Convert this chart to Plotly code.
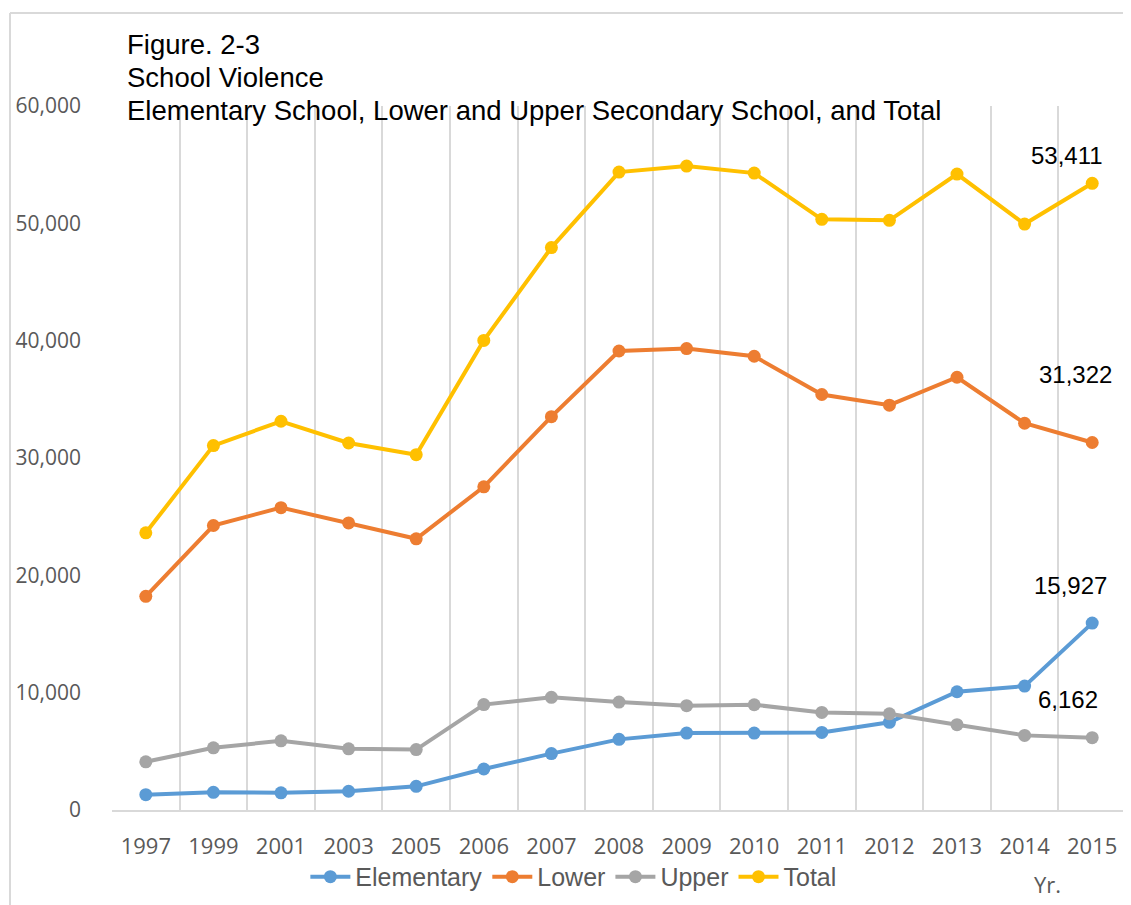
import plotly.graph_objects as go

# School violence cases by school level
years = ["1997", "1999", "2001", "2003", "2005", "2006", "2007", "2008",
         "2009", "2010", "2011", "2012", "2013", "2014", "2015"]

elementary = [1304, 1509, 1465, 1600, 2018, 3494, 4807, 6020,
              6560, 6560, 6610, 7470, 10080, 10560, 15927]
lower = [18209, 24246, 25769, 24463, 23115, 27540, 33525, 39120,
         39330, 38670, 35410, 34500, 36880, 32960, 31322]
upper = [4108, 5300, 5896, 5215, 5150, 8985, 9603, 9200,
         8890, 8970, 8320, 8200, 7270, 6360, 6162]
total = [23621, 31055, 33130, 31278, 30283, 40019, 47935, 54370,
         54880, 54280, 50340, 50260, 54200, 49940, 53411]

series = [
    ("Elementary", elementary, "#5B9BD5"),
    ("Lower", lower, "#ED7D31"),
    ("Upper", upper, "#A5A5A5"),
    ("Total", total, "#FFC000"),
]

# offsets (px) of the end-of-line value labels, as placed in the original
label_shift = {
    "Elementary": (-22, 38),
    "Lower": (-17, 68),
    "Upper": (-24, 38),
    "Total": (-25, 28),
}

GRID = "#d9d9d9"
TICK_GRAY = "#595959"
TITLE_FONT = dict(family="Liberation Sans, Arial", size=27.5, color="black")

fig = go.Figure()
for name, values, color in series:
    fig.add_trace(go.Scatter(
        x=years,
        y=values,
        name=name,
        mode="lines+markers",
        line=dict(color=color, width=4),
        marker=dict(color=color, size=13),
    ))

annotations = [
    dict(xref="paper", yref="paper", x=0.0128, y=1.088, text="Figure. 2-3",
         showarrow=False, xanchor="left", yanchor="middle", font=TITLE_FONT),
    dict(xref="paper", yref="paper", x=0.0128, y=1.041, text="School Violence",
         showarrow=False, xanchor="left", yanchor="middle", font=TITLE_FONT),
    dict(xref="paper", yref="paper", x=0.0128, y=0.993,
         text="Elementary School, Lower and Upper Secondary School, and Total",
         showarrow=False, xanchor="left", yanchor="middle", font=TITLE_FONT),
    dict(xref="paper", yref="paper", x=0.923, y=-0.105, text="Yr.",
         showarrow=False, xanchor="center", yanchor="middle",
         font=dict(family="Open Sans", size=22, color=TICK_GRAY)),
]
last = len(years) - 1  # category index of the last year
for name, values, color in series:
    dx, dy = label_shift[name]
    annotations.append(dict(
        x=last, y=values[-1], text=f"{values[-1]:,}",
        showarrow=False, xshift=dx, yshift=dy,
        xanchor="center", yanchor="middle",
        font=dict(family="Liberation Sans, Arial", size=24, color="black"),
    ))

# frame around the chart object (left and top edges are visible)
shapes = [
    dict(type="line", xref="paper", yref="paper", x0=-0.1006, x1=-0.1006,
         y0=1.132, y1=-0.2, line=dict(color=GRID, width=2)),
    dict(type="line", xref="paper", yref="paper", x0=-0.1006, x1=1.1,
         y0=1.132, y1=1.132, line=dict(color=GRID, width=2)),
]

# the page body adds an 8px margin, so the figure is a bit smaller than the window
fig.update_layout(
    width=1123,
    height=897,
    margin=dict(l=104, r=5, t=98, b=95),
    paper_bgcolor="white",
    plot_bgcolor="white",
    showlegend=True,
    legend=dict(
        orientation="h", x=0.455, xanchor="center", y=-0.095, yanchor="middle",
        font=dict(family="Liberation Sans, Arial", size=25, color=TICK_GRAY),
        itemwidth=40, traceorder="normal",
    ),
    annotations=annotations,
    shapes=shapes,
)
fig.update_xaxes(
    type="category",
    range=[-0.5, last + 0.5],
    tickson="boundaries",
    showgrid=True, gridcolor=GRID, gridwidth=1.5,
    showline=True, linecolor=GRID, linewidth=1.5,
    ticks="", ticklabelstandoff=16, tickangle=0,
    tickfont=dict(family="Open Sans", size=22, color=TICK_GRAY),
)
fig.update_yaxes(
    range=[0, 60000],
    tickvals=[0, 10000, 20000, 30000, 40000, 50000, 60000],
    tickformat=",d",
    showgrid=False, zeroline=False, showline=False,
    ticks="", ticklabelstandoff=30,
    tickfont=dict(family="Open Sans", size=21, color=TICK_GRAY),
)

fig.write_html("out.html")
